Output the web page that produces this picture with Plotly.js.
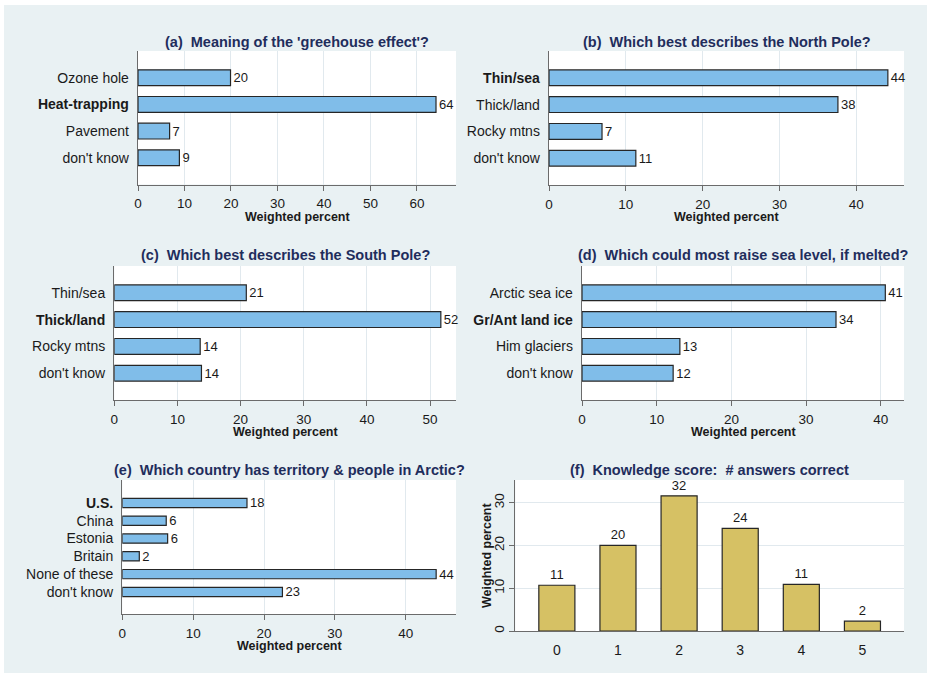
<!DOCTYPE html>
<html><head><meta charset="utf-8">
<script src="https://cdn.plot.ly/plotly-3.0.1.min.js"></script>
<style>html,body{margin:0;padding:0;background:#fff;}#chart{position:absolute;left:4px;top:5px;width:923px;height:668px;}</style>
</head><body><div id="chart"></div><script>
// ---- data ----
const catsA = ["Ozone hole", "Heat-trapping", "Pavement", "don't know"];
const valsA = [19.9, 64.1, 6.8, 8.9];
const boldA = "Heat-trapping";

const catsB = ["Thin/sea", "Thick/land", "Rocky mtns", "don't know"];
const valsB = [44.1, 37.6, 6.9, 11.3];
const boldB = "Thin/sea";

const catsC = ["Thin/sea", "Thick/land", "Rocky mtns", "don't know"];
const valsC = [20.9, 51.7, 13.6, 13.8];
const boldC = "Thick/land";

const catsD = ["Arctic sea ice", "Gr/Ant land ice", "Him glaciers", "don't know"];
const valsD = [40.6, 34.0, 13.1, 12.2];
const boldD = "Gr/Ant land ice";

const catsE = ["U.S.", "China", "Estonia", "Britain", "None of these", "don't know"];
const valsE = [17.6, 6.2, 6.4, 2.4, 44.3, 22.6];
const boldE = "U.S.";

const scoreF = [0, 1, 2, 3, 4, 5];
const valsF = [10.7, 20.0, 31.6, 24.0, 10.9, 2.3];

const titles = [
  "(a)\u00a0 Meaning of the 'greehouse effect'?",
  "(b)\u00a0 Which best describes the North Pole?",
  "(c)\u00a0 Which best describes the South Pole?",
  "(d)\u00a0 Which could most raise sea level, if melted?",
  "(e)\u00a0 Which country has territory & people in Arctic?",
  "(f)\u00a0 Knowledge score:\u00a0 # answers correct"
];
const axisTitle = "Weighted percent";

// ---- layout helpers ----
const W = 923, H = 668, OX = 4, OY = 5;
const px = v => (v - OX) / W;
const py = v => 1 - (v - OY) / H;

const FONT = "Liberation Sans, Arial, Helvetica, sans-serif";
const BAR_BLUE = "#80bde9";
const BAR_SAND = "#d6c164";
const LINE = "#6b6b6b";
const GRID = "#e1e9ee";
const TITLE_C = "#1f2d5c";
const TXT = "#1a1a1a";

// panel boxes: [x0, x1, y0(top), y1(bottom)] in page pixels
const boxes = [
  [138, 456, 51, 184.5],
  [549, 904, 51, 185],
  [114.3, 456, 266, 400],
  [582, 904, 266, 400],
  [122.3, 456, 480, 614],
  [515.3, 904, 480, 631]
];
const titleY = [42, 42, 255, 255, 469.5, 469.5];
const xTitleY = [217, 217, 432, 432, 646, null];

const hPanels = [
  {cats: catsA, vals: valsA, bold: boldA, xr: [0, 68.4], yr: [4, -1], w: 0.59, tv: [0,10,20,30,40,50,60]},
  {cats: catsB, vals: valsB, bold: boldB, xr: [0, 46.2], yr: [4, -1], w: 0.59, tv: [0,10,20,30,40]},
  {cats: catsC, vals: valsC, bold: boldC, xr: [0, 54.1], yr: [4, -1], w: 0.59, tv: [0,10,20,30,40,50]},
  {cats: catsD, vals: valsD, bold: boldD, xr: [0, 43.1], yr: [4, -1], w: 0.59, tv: [0,10,20,30,40]},
  {cats: catsE, vals: valsE, bold: boldE, xr: [0, 47.1], yr: [6.24, -1.29], w: 0.52, tv: [0,10,20,30,40]}
];

const data = [];
const layout = {
  width: W, height: H,
  margin: {l: 0, r: 0, t: 0, b: 0},
  paper_bgcolor: "#e9f1f3",
  plot_bgcolor: "#ffffff",
  showlegend: false,
  font: {family: FONT, size: 14, color: TXT},
  annotations: []
};

hPanels.forEach((p, i) => {
  const n = i + 1;
  const xs = n === 1 ? "" : String(n);
  const b = boxes[i];
  data.push({
    type: "bar", orientation: "h",
    x: p.vals, y: p.cats,
    xaxis: "x" + xs, yaxis: "y" + xs,
    width: p.w,
    marker: {color: BAR_BLUE, line: {color: "#262626", width: 1.2}},
    texttemplate: "%{x:.0f}", textposition: "outside", constraintext: "none",
    outsidetextfont: {family: FONT, size: 13, color: TXT},
    cliponaxis: false, hoverinfo: "skip"
  });
  layout["xaxis" + xs] = {
    domain: [px(b[0]), px(b[1])], anchor: "y" + xs,
    range: p.xr, tickmode: "array", tickvals: p.tv,
    ticks: "outside", ticklen: 5, tickcolor: LINE, tickwidth: 1,
    showline: true, linecolor: LINE, linewidth: 1.3,
    showgrid: true, gridcolor: GRID, gridwidth: 1, zeroline: false,
    ticklabelstandoff: 1,
    tickfont: {family: FONT, size: 13.5, color: TXT}, fixedrange: true
  };
  layout["yaxis" + xs] = {
    domain: [py(b[3]), py(b[2])], anchor: "x" + xs,
    type: "category", categoryorder: "array", categoryarray: p.cats,
    range: p.yr, tickmode: "array", tickvals: p.cats,
    ticktext: p.cats.map(c => c === p.bold ? "<b>" + c + "</b>" : c),
    ticks: "", showline: true, linecolor: LINE, linewidth: 1.3,
    showgrid: false, zeroline: false, ticklabelstandoff: 5,
    tickfont: {family: FONT, size: 14, color: TXT}, fixedrange: true
  };
});

// panel f
{
  const b = boxes[5];
  data.push({
    type: "bar", x: scoreF, y: valsF, xaxis: "x6", yaxis: "y6",
    width: 0.59,
    marker: {color: BAR_SAND, line: {color: "#262626", width: 1.2}},
    texttemplate: "%{y:.0f}", textposition: "outside", constraintext: "none",
    outsidetextfont: {family: FONT, size: 13, color: TXT},
    cliponaxis: false, hoverinfo: "skip"
  });
  layout.xaxis6 = {
    domain: [px(b[0]), px(b[1])], anchor: "y6",
    range: [-0.68, 5.68], tickmode: "array", tickvals: scoreF,
    ticks: "", showline: true, linecolor: LINE, linewidth: 1.3,
    showgrid: false, zeroline: false, ticklabelstandoff: 6,
    tickfont: {family: FONT, size: 14, color: TXT}, fixedrange: true
  };
  layout.yaxis6 = {
    domain: [py(b[3]), py(b[2])], anchor: "x6",
    range: [0, 35.3], tickmode: "array", tickvals: [0, 10, 20, 30],
    tickangle: -90,
    ticks: "outside", ticklen: 5, tickcolor: LINE,
    showline: true, linecolor: LINE, linewidth: 1.3,
    showgrid: true, gridcolor: GRID, zeroline: false,
    tickfont: {family: FONT, size: 13.5, color: TXT}, fixedrange: true
  };
  layout.annotations.push({
    text: "<b>" + axisTitle + "</b>", xref: "paper", yref: "paper",
    x: px(486.5), y: py((b[2] + b[3]) / 2), textangle: -90,
    xanchor: "center", yanchor: "middle", showarrow: false,
    font: {family: FONT, size: 12.5, color: TXT}
  });
}

// titles and x-axis titles
boxes.forEach((b, i) => {
  layout.annotations.push({
    text: "<b>" + titles[i] + "</b>", xref: "paper", yref: "paper",
    x: px((b[0] + b[1]) / 2), y: py(titleY[i]),
    xanchor: "center", yanchor: "middle", showarrow: false,
    font: {family: FONT, size: 14.5, color: TITLE_C}
  });
  if (xTitleY[i] !== null) {
    layout.annotations.push({
      text: "<b>" + axisTitle + "</b>", xref: "paper", yref: "paper",
      x: px((b[0] + b[1]) / 2), y: py(xTitleY[i]),
      xanchor: "center", yanchor: "middle", showarrow: false,
      font: {family: FONT, size: 12.5, color: TXT}
    });
  }
});

Plotly.newPlot("chart", data, layout, {staticPlot: true, displayModeBar: false});
</script></body></html>
